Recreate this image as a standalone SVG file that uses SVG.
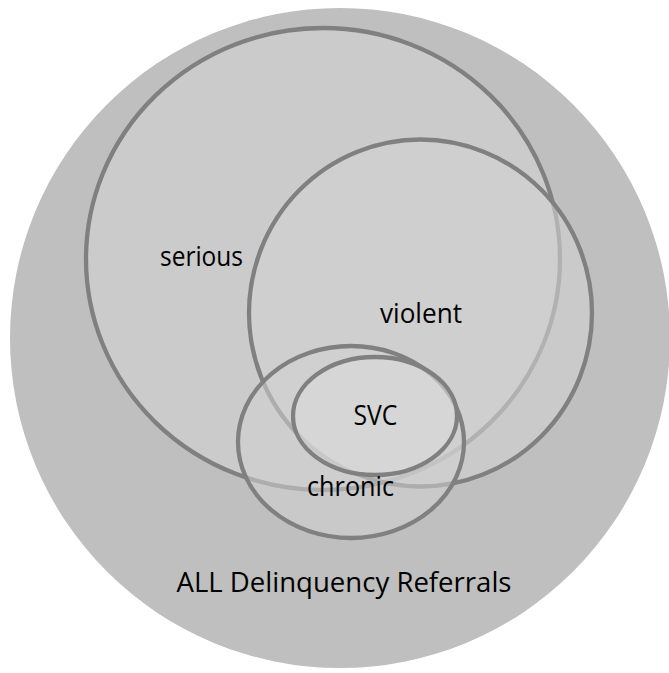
<svg xmlns="http://www.w3.org/2000/svg" width="669" height="673" viewBox="0 0 669 673">
<style>
.ring{stroke:#808080;stroke-width:4.3}
.lbl{font-family:"Open Sans","Liberation Sans",sans-serif;font-size:27px;fill:#000;text-anchor:middle}
</style>
<rect width="669" height="673" fill="#ffffff"/>
<g id="all">
<circle cx="340" cy="338" r="330" fill="#bfbfbf"/>
<text class="lbl" x="344" y="592" textLength="335" lengthAdjust="spacingAndGlyphs">ALL Delinquency Referrals</text>
</g>
<g id="serious">
<ellipse class="ring" cx="323" cy="259" rx="237" ry="231" fill="#cbcbcb"/>
</g>
<g id="violent">
<ellipse class="ring" cx="420.5" cy="313" rx="171.5" ry="173.5" fill="#d2d2d2" fill-opacity="0.6"/>
</g>
<g id="chronic">
<ellipse class="ring" cx="351" cy="442" rx="113" ry="96" fill="#d2d2d2" fill-opacity="0.55"/>
</g>
<g id="svc">
<ellipse class="ring" cx="375" cy="416" rx="82" ry="59" fill="#dadada" fill-opacity="0.6"/>
</g>
<g id="labels">
<text class="lbl" x="201.5" y="266" textLength="83" lengthAdjust="spacingAndGlyphs">serious</text>
<text class="lbl" x="421" y="322.5" textLength="82" lengthAdjust="spacingAndGlyphs">violent</text>
<text class="lbl" x="375.5" y="425" textLength="44" lengthAdjust="spacingAndGlyphs">SVC</text>
<text class="lbl" x="350.5" y="496" textLength="87" lengthAdjust="spacingAndGlyphs">chronic</text>
</g>
<g id="connectors"/>
</svg>
